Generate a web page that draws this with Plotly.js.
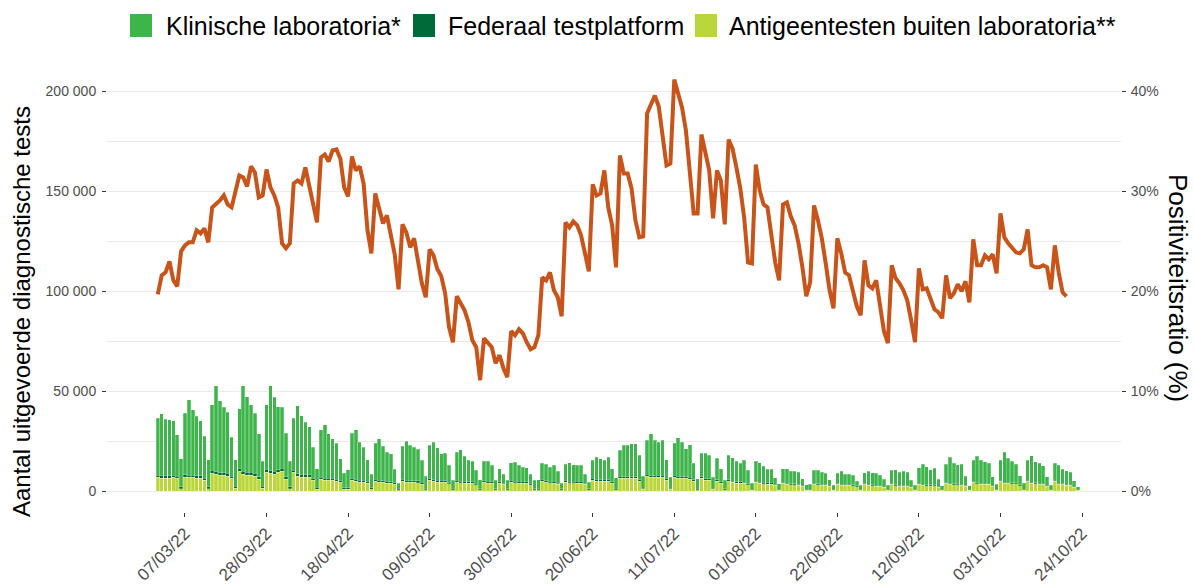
<!DOCTYPE html>
<html><head><meta charset="utf-8">
<script src="https://cdn.plot.ly/plotly-3.0.1.min.js"></script>
<style>html,body{margin:0;padding:0;background:#fff}#chart{width:1194px;height:585px}</style>
</head><body><div id="chart"></div>
<script>
const START_DATE = '2022-02-28';

const klinische = [
28500,31000,28300,28000,27300,20700,14000,
30800,37700,32700,29800,27600,21000,13500,
32900,43200,36200,32900,30700,19600,13400,
30100,43000,38000,33900,30200,21600,12500,
32400,42700,37200,31700,30700,21900,12800,
26000,34100,29600,26300,24100,15700,9300,
23900,26700,22200,19900,18000,11000,7400,
9100,22700,24700,19000,16500,11000,6700,
18100,20800,17100,14600,14000,6900,2600,
16600,19600,17600,16800,15700,11000,5900,
16700,18900,16400,13400,13900,8400,4000,
14200,15700,12500,10700,10400,6400,4500,
9900,10200,8200,4100,6600,4300,4100,
8900,9500,8000,7200,7100,4400,4100,
4400,8200,8200,7000,8000,6000,2800,
8000,9200,8200,8000,8000,4300,3300,
9000,11200,10600,9500,11400,6500,5400,
13000,15700,15700,16600,16600,12100,5900,
17000,21100,17700,16700,17500,9500,5600,
16200,19400,17400,14100,16400,8300,4900,
11800,12800,11600,5700,10800,6600,4200,
12200,11800,10200,9400,10900,6600,3000,
10100,9800,8200,6700,6700,3400,2700,
6900,7400,6100,6100,6000,3300,2400,
2400,6300,6600,6000,5500,2900,2000,
5000,6300,5000,5000,4600,2200,2000,
5400,6500,6100,6000,4800,3400,2000,
6500,7500,6500,6800,6600,2900,2000,
7700,10200,9000,7500,8200,3600,1900,
9000,13000,10100,9500,10000,4600,1900,
10500,13200,11500,10800,10000,4300,2700,
10000,14800,12000,10600,9400,4600,2900,
10000,13400,10600,10000,8900,4300,2100,
8700,9000,7200,6700,6000,2800,1400
];

const federaal = [
1200,1200,1200,1200,1200,1000,1000,
1200,1200,1200,1200,1200,1000,1000,
1300,1300,1300,1300,1300,1100,1000,
1300,1300,1300,1300,1300,1100,1000,
1300,1300,1300,1300,1300,1100,1000,
1200,1200,1200,1200,1200,1000,900,
1000,1000,1000,1000,1000,900,800,
800,1000,1000,1000,1000,900,800,
900,900,900,900,900,800,700,
900,900,900,900,900,800,700,
800,800,800,800,800,700,600,
800,800,800,800,800,700,600,
800,800,800,600,800,700,600,
800,800,800,800,800,700,600,
600,800,800,800,800,700,600,
800,800,800,800,800,700,600,
800,800,800,800,800,700,600,
800,800,800,800,800,700,600,
800,800,800,800,800,700,600,
800,800,800,800,800,700,600,
700,700,700,500,700,600,500,
600,600,600,600,600,500,500,
600,600,600,600,600,500,500,
500,500,500,500,500,400,400,
400,500,500,500,500,400,400,
500,500,500,500,500,400,400,
500,500,500,500,500,400,400,
500,500,500,500,500,400,400,
500,500,500,500,500,400,400,
500,500,500,500,500,400,400,
500,500,500,500,500,400,400,
500,500,500,500,500,400,400,
500,500,500,500,500,400,400,
500,500,500,500,500,400,400
];

const antigeen = [
6800,6500,6500,6500,6800,6500,1200,
7000,6800,6800,6500,6500,5500,1200,
9000,8300,7800,7800,7500,6300,1300,
9800,8500,8000,8000,7500,6000,1300,
9500,8800,8500,9300,10000,6000,1200,
9300,7500,7000,7000,7000,5300,1000,
5800,5500,5500,5300,5000,4300,800,
800,5300,5000,4500,4500,3800,800,
5000,4500,4300,4000,3800,3300,700,
5000,4500,4300,4300,4200,3500,700,
5300,4800,4500,4500,4300,3700,700,
4500,4200,4000,3800,3800,3200,600,
4300,4000,3800,600,3800,3300,600,
4500,4200,4000,4000,3800,3200,600,
700,5000,4300,4200,4000,3300,600,
4500,4200,4200,4000,4000,3300,600,
5500,5000,4800,5000,4800,4000,700,
6500,6300,6300,6300,6300,5000,800,
7500,6800,6800,7000,7000,5500,800,
7000,6500,6300,6300,6000,5000,700,
6500,5500,5500,800,5000,4000,600,
5000,4300,4000,4000,3800,3200,500,
4300,3800,3700,3500,3500,2800,500,
3800,3300,3200,3200,3000,2500,400,
500,3500,3200,3000,3000,2400,400,
3500,3000,2800,2800,2700,2200,400,
3300,2800,2600,2500,2500,2000,400,
3300,2700,2500,2500,2400,2000,400,
3500,2800,2700,2700,2600,2000,400,
4000,3300,3200,3200,3000,2300,400,
4500,3600,3500,3400,3300,2500,400,
5000,4000,3800,3700,3600,2700,500,
5000,3800,3600,3500,3300,2500,500,
4800,3500,3300,3000,2800,2000,400
];

const positiviteit = [
19.7,21.6,21.9,23.0,21.1,20.5,24.0,
24.6,24.9,24.9,26.1,25.8,26.3,24.9,
28.4,28.7,29.1,29.6,28.7,28.4,30.0,
31.6,31.4,30.5,32.5,31.9,29.4,29.6,
32.2,30.4,29.6,28.4,24.8,24.3,24.8,
30.8,31.1,30.8,32.4,30.4,28.6,26.9,
33.4,33.7,33.0,34.1,34.2,33.3,30.4,
29.5,33.5,32.1,32.5,30.8,26.1,23.8,
29.8,28.4,26.8,27.6,25.8,23.7,20.2,
26.7,25.9,24.4,25.3,23.1,20.8,19.4,
24.2,23.6,22.2,21.5,19.8,16.4,14.9,
19.5,18.8,18.1,16.9,15.1,14.4,11.1,
15.3,14.8,14.4,12.8,13.6,12.3,11.4,
16.0,15.6,16.2,15.8,14.9,14.2,14.4,
15.6,21.4,21.1,21.9,20.1,19.4,17.5,
26.9,26.4,27.0,26.6,25.6,23.8,22.0,
30.7,29.6,29.8,32.1,28.4,26.6,22.4,
33.6,31.8,31.8,30.3,27.1,25.4,25.5,
37.8,38.8,39.6,38.5,35.8,32.6,32.8,
41.2,39.8,38.4,36.1,32.1,27.8,27.8,
35.7,33.9,32.1,27.3,32.1,31.1,26.7,
35.2,34.3,32.4,30.3,27.4,22.9,22.8,
32.7,30.1,28.7,28.4,25.6,22.9,21.1,
28.7,28.9,27.5,26.6,24.8,22.4,19.5,
20.9,28.6,27.1,25.3,22.8,20.1,18.3,
25.3,23.8,21.9,21.6,20.1,18.5,17.6,
23.1,20.6,20.3,21.1,18.8,16.0,14.8,
22.6,21.3,20.8,20.1,19.1,17.1,14.9,
22.3,20.2,20.3,19.1,18.2,17.9,17.3,
21.6,19.3,19.8,20.7,20.0,21.0,18.9,
25.2,22.6,22.6,23.6,23.2,23.7,21.8,
27.8,25.4,24.8,24.4,23.9,23.8,24.2,
26.2,22.6,22.4,22.4,22.6,22.4,20.2,
24.6,21.9,19.9,19.5
];

const seriesNames = ['Klinische laboratoria*', 'Federaal testplatform', 'Antigeentesten buiten laboratoria**'];
const seriesColors = ['#3db54a', '#006a38', '#bad63b'];
const lineColor = '#c9541a';

const tickDates = ['2022-03-07','2022-03-28','2022-04-18','2022-05-09','2022-05-30','2022-06-20',
                   '2022-07-11','2022-08-01','2022-08-22','2022-09-12','2022-10-03','2022-10-24'];
const tickLabels = ['07/03/22','28/03/22','18/04/22','09/05/22','30/05/22','20/06/22',
                    '11/07/22','01/08/22','22/08/22','12/09/22','03/10/22','24/10/22'];
const yTickVals = [0, 50000, 100000, 150000, 200000];
const yTickLabels = ['0', '50 000', '100 000', '150 000', '200 000'];
const y2TickVals = [0, 10, 20, 30, 40];
const y2TickLabels = ['0%', '10%', '20%', '30%', '40%'];

function dayList(start, n) {
  const out = [];
  const d0 = new Date(start + 'T00:00:00Z');
  for (let i = 0; i < n; i++) {
    const d = new Date(d0.getTime() + i * 86400000);
    out.push(d.toISOString().slice(0, 10));
  }
  return out;
}
const barDates = dayList(START_DATE, klinische.length);
const lineDates = dayList(START_DATE, positiviteit.length);

const FONT = 'Liberation Sans, Arial, sans-serif';
const barLine = {color: 'rgba(255,255,255,0.6)', width: 0.4};

const traces = [
  {type: 'bar', x: barDates, y: antigeen, name: seriesNames[2], marker: {color: seriesColors[2], line: barLine}, showlegend: false},
  {type: 'bar', x: barDates, y: federaal, name: seriesNames[1], marker: {color: seriesColors[1], line: barLine}, showlegend: false},
  {type: 'bar', x: barDates, y: klinische, name: seriesNames[0], marker: {color: seriesColors[0], line: barLine}, showlegend: false},
  {type: 'scatter', mode: 'lines', x: lineDates, y: positiviteit, yaxis: 'y2', name: 'Positiviteitsratio',
   line: {color: lineColor, width: 4}, showlegend: false}
];

// layout geometry (pixels)
const L = 107, R = 1121, T = 59, B = 512;
const W = R - L, H = B - T;
const px = v => (v - L) / W;
const py = v => (B - v) / H;

const legendItems = [
  {sw: 130, tx: 164},
  {sw: 413, tx: 446},
  {sw: 695, tx: 727}
];
const shapes = [];
const annotations = [];
legendItems.forEach((it, i) => {
  shapes.push({type: 'rect', xref: 'paper', yref: 'paper',
    x0: px(it.sw), x1: px(it.sw + 22), y0: py(37), y1: py(14),
    fillcolor: seriesColors[i], line: {width: 0}});
  annotations.push({xref: 'paper', yref: 'paper', x: px(it.tx), y: py(26),
    xanchor: 'left', yanchor: 'middle', showarrow: false, text: seriesNames[i],
    font: {family: FONT, size: 25, color: '#000'}});
});
annotations.push({xref: 'paper', yref: 'paper', x: px(21), y: py(312), textangle: -90,
  xanchor: 'center', yanchor: 'middle', showarrow: false,
  text: 'Aantal uitgevoerde diagnostische tests', font: {family: FONT, size: 24, color: '#000'}});
annotations.push({xref: 'paper', yref: 'paper', x: px(1178), y: py(288), textangle: 90,
  xanchor: 'center', yanchor: 'middle', showarrow: false,
  text: 'Positiviteitsratio (%)', font: {family: FONT, size: 26, color: '#000'}});

const layout = {
  width: 1194, height: 585,
  margin: {l: L, r: 1194 - R, t: T, b: 585 - B, pad: 0},
  paper_bgcolor: '#fff', plot_bgcolor: '#fff',
  barmode: 'stack', bargap: 0.1,
  showlegend: false,
  font: {family: FONT},
  xaxis: {
    type: 'date', range: ['2022-02-14 22:00', '2022-11-03 01:00'],
    tickmode: 'array', tickvals: tickDates, ticktext: tickLabels, tickangle: -45,
    ticks: 'outside', ticklen: 4, tickcolor: '#333', tickwidth: 1,
    showgrid: false, zeroline: false, showline: false,
    tickfont: {family: FONT, size: 17, color: '#4d4d4d'}
  },
  yaxis: {
    range: [-10500, 216300], tickmode: 'array', tickvals: yTickVals, ticktext: yTickLabels,
    ticks: 'outside', ticklen: 4, tickcolor: '#333', tickwidth: 1, ticklabelstandoff: 3,
    showgrid: true, gridcolor: '#ebebeb', gridwidth: 1, zeroline: false, showline: false,
    minor: {dtick: 25000, tick0: 0, showgrid: true, gridcolor: '#ebebeb', gridwidth: 1, ticks: ''},
    tickfont: {family: FONT, size: 14, color: '#4d4d4d'}
  },
  yaxis2: {
    overlaying: 'y', side: 'right', range: [-2.1, 43.26],
    tickmode: 'array', tickvals: y2TickVals, ticktext: y2TickLabels,
    ticks: 'outside', ticklen: 4, tickcolor: '#333', tickwidth: 1, ticklabelstandoff: 2,
    showgrid: false, zeroline: false, showline: false,
    tickfont: {family: FONT, size: 14, color: '#4d4d4d'}
  },
  shapes: shapes,
  annotations: annotations
};

Plotly.newPlot('chart', traces, layout, {displayModeBar: false, staticPlot: true});
</script>
</body></html>
